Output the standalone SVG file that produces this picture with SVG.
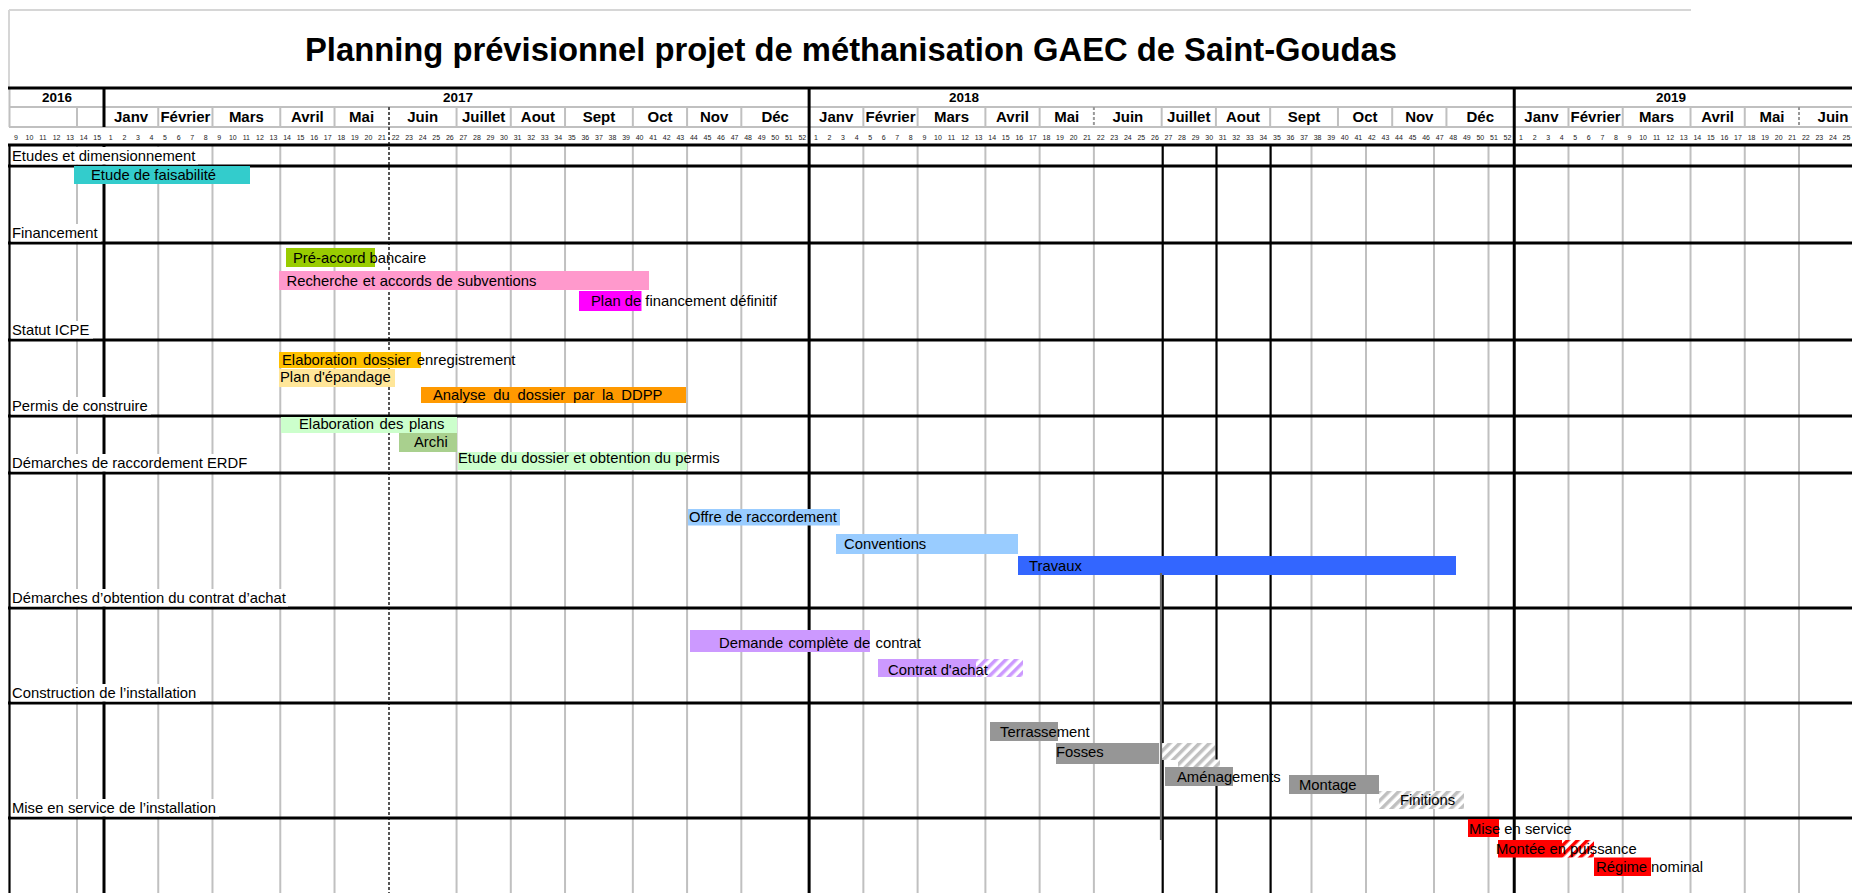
<svg xmlns="http://www.w3.org/2000/svg" width="1852" height="893" viewBox="0 0 1852 893">
<defs>
<style>
text{font-family:"Liberation Sans",Arial,sans-serif;fill:#000}
.ttl{font-size:34px;font-weight:bold}
.yr{font-size:13.5px;font-weight:bold;text-anchor:middle}
.mo{font-size:15px;font-weight:bold;text-anchor:middle}
.wk{font-size:7px;text-anchor:middle;fill:#222}
.lb{font-size:14.8px}
.g{stroke:#c0c0c0;stroke-width:2;fill:none}
.k{stroke:#000;stroke-width:3;fill:none}
.k2{stroke:#000;stroke-width:2.2;fill:none}
.d{stroke:#555;stroke-width:2;stroke-dasharray:3 2;fill:none}
.tb{stroke:#d6d6d6;stroke-width:2;fill:none}
.lc{fill:#fff}
</style>
<pattern id="hg" patternUnits="userSpaceOnUse" width="7" height="7" patternTransform="rotate(45)"><rect width="7" height="7" fill="#fff"/><rect width="3.5" height="7" fill="#c0c0c0"/></pattern>
<pattern id="hr" patternUnits="userSpaceOnUse" width="7" height="7" patternTransform="rotate(45)"><rect width="7" height="7" fill="#fff"/><rect width="3.5" height="7" fill="#ff0000"/></pattern>
<pattern id="hp" patternUnits="userSpaceOnUse" width="7" height="7" patternTransform="rotate(45)"><rect width="7" height="7" fill="#fff"/><rect width="3.5" height="7" fill="#cc99ff"/></pattern>
</defs>
<rect width="1852" height="893" fill="#fff"/>

<g id="title">
<path class="tb" d="M9 10H1691M9 10V88"/>
<text class="ttl" x="305" y="61" textLength="1092" lengthAdjust="spacingAndGlyphs">Planning prévisionnel projet de méthanisation GAEC de Saint-Goudas</text>
</g>

<g id="grid">
<path class="g" d="M9 107H1852M9 127H1852M9.5 88V127"/>
<path class="g" d="M77 107V127M158.24 107V127M212.48 107V127M280.28 107V127M334.52 107V127M456.56 107V127M510.8 107V127M565.04 107V127M632.84 107V127M687.08 107V127M741.32 107V127M863.36 107V127M917.6 107V127M985.4 107V127M1039.64 107V127M1161.68 107V127M1215.92 107V127M1270.16 107V127M1337.96 107V127M1392.2 107V127M1446.44 107V127M1568.48 107V127M1622.72 107V127M1690.52 107V127M1744.76 107V127"/>
<path class="d" d="M1093.88 107V127M1799 107V127" style="stroke:#999"/>
<path class="g" d="M77 145V893M158.24 145V893M212.48 145V893M280.28 145V893M334.52 145V893M456.56 145V893M510.8 145V893M565.04 145V893M632.84 145V893M687.08 145V893M741.32 145V893M863.36 145V893M917.6 145V893M985.4 145V893M1039.64 145V893M1093.88 145V893M1311.5 145V893M1366 145V893M1434 145V893M1488.5 145V893M1568.48 145V893M1622.72 145V893M1690.52 145V893M1744.76 145V893M1799 145V893"/>
<path class="d" d="M389 107V893"/>
<path class="k" d="M8 88H1852M8 145H1852M104 88V127M104 145V893M809.12 88V893M1514.24 88V893"/>
<path class="k2" d="M9.5 145V893M1162.7 145V893M1216.5 145V893M1270.6 145V893"/>
<path class="k" d="M8 166H1852M8 243H1852M8 340H1852M8 416H1852M8 473H1852M8 608H1852M8 703H1852M8 818H1852"/>
</g>

<g id="header">
<text class="yr" x="57" y="102">2016</text>
<text class="yr" x="458" y="102">2017</text>
<text class="yr" x="964" y="102">2018</text>
<text class="yr" x="1671" y="102">2019</text>
<text class="mo" y="122"><tspan x="131.1">Janv</tspan><tspan x="185.4">Février</tspan><tspan x="246.4">Mars</tspan><tspan x="307.4">Avril</tspan><tspan x="361.6">Mai</tspan><tspan x="422.7">Juin</tspan><tspan x="483.7">Juillet</tspan><tspan x="537.9">Aout</tspan><tspan x="598.9">Sept</tspan><tspan x="660">Oct</tspan><tspan x="714.2">Nov</tspan><tspan x="775.2">Déc</tspan><tspan x="836.2">Janv</tspan><tspan x="890.5">Février</tspan><tspan x="951.5">Mars</tspan><tspan x="1012.5">Avril</tspan><tspan x="1066.8">Mai</tspan><tspan x="1127.8">Juin</tspan><tspan x="1188.8">Juillet</tspan><tspan x="1243">Aout</tspan><tspan x="1304.1">Sept</tspan><tspan x="1365.1">Oct</tspan><tspan x="1419.3">Nov</tspan><tspan x="1480.3">Déc</tspan><tspan x="1541.4">Janv</tspan><tspan x="1595.6">Février</tspan><tspan x="1656.6">Mars</tspan><tspan x="1717.6">Avril</tspan><tspan x="1771.9">Mai</tspan><tspan x="1833">Juin</tspan></text>
<text class="wk" y="139.5"><tspan x="15.86">9</tspan><tspan x="29.42">10</tspan><tspan x="42.98">11</tspan><tspan x="56.54">12</tspan><tspan x="70.1">13</tspan><tspan x="83.66">14</tspan><tspan x="97.22">15</tspan><tspan x="110.78">1</tspan><tspan x="124.34">2</tspan><tspan x="137.9">3</tspan><tspan x="151.46">4</tspan><tspan x="165.02">5</tspan><tspan x="178.58">6</tspan><tspan x="192.14">7</tspan><tspan x="205.7">8</tspan><tspan x="219.26">9</tspan><tspan x="232.82">10</tspan><tspan x="246.38">11</tspan><tspan x="259.94">12</tspan><tspan x="273.5">13</tspan><tspan x="287.06">14</tspan><tspan x="300.62">15</tspan><tspan x="314.18">16</tspan><tspan x="327.74">17</tspan><tspan x="341.3">18</tspan><tspan x="354.86">19</tspan><tspan x="368.42">20</tspan><tspan x="381.98">21</tspan><tspan x="395.54">22</tspan><tspan x="409.1">23</tspan><tspan x="422.66">24</tspan><tspan x="436.22">25</tspan><tspan x="449.78">26</tspan><tspan x="463.34">27</tspan><tspan x="476.9">28</tspan><tspan x="490.46">29</tspan><tspan x="504.02">30</tspan><tspan x="517.58">31</tspan><tspan x="531.14">32</tspan><tspan x="544.7">33</tspan><tspan x="558.26">34</tspan><tspan x="571.82">35</tspan><tspan x="585.38">36</tspan><tspan x="598.94">37</tspan><tspan x="612.5">38</tspan><tspan x="626.06">39</tspan><tspan x="639.62">40</tspan><tspan x="653.18">41</tspan><tspan x="666.74">42</tspan><tspan x="680.3">43</tspan><tspan x="693.86">44</tspan><tspan x="707.42">45</tspan><tspan x="720.98">46</tspan><tspan x="734.54">47</tspan><tspan x="748.1">48</tspan><tspan x="761.66">49</tspan><tspan x="775.22">50</tspan><tspan x="788.78">51</tspan><tspan x="802.34">52</tspan><tspan x="815.9">1</tspan><tspan x="829.46">2</tspan><tspan x="843.02">3</tspan><tspan x="856.58">4</tspan><tspan x="870.14">5</tspan><tspan x="883.7">6</tspan><tspan x="897.26">7</tspan><tspan x="910.82">8</tspan><tspan x="924.38">9</tspan><tspan x="937.94">10</tspan><tspan x="951.5">11</tspan><tspan x="965.06">12</tspan><tspan x="978.62">13</tspan><tspan x="992.18">14</tspan><tspan x="1005.74">15</tspan><tspan x="1019.3">16</tspan><tspan x="1032.86">17</tspan><tspan x="1046.42">18</tspan><tspan x="1059.98">19</tspan><tspan x="1073.54">20</tspan><tspan x="1087.1">21</tspan><tspan x="1100.66">22</tspan><tspan x="1114.22">23</tspan><tspan x="1127.78">24</tspan><tspan x="1141.34">25</tspan><tspan x="1154.9">26</tspan><tspan x="1168.46">27</tspan><tspan x="1182.02">28</tspan><tspan x="1195.58">29</tspan><tspan x="1209.14">30</tspan><tspan x="1222.7">31</tspan><tspan x="1236.26">32</tspan><tspan x="1249.82">33</tspan><tspan x="1263.38">34</tspan><tspan x="1276.94">35</tspan><tspan x="1290.5">36</tspan><tspan x="1304.06">37</tspan><tspan x="1317.62">38</tspan><tspan x="1331.18">39</tspan><tspan x="1344.74">40</tspan><tspan x="1358.3">41</tspan><tspan x="1371.86">42</tspan><tspan x="1385.42">43</tspan><tspan x="1398.98">44</tspan><tspan x="1412.54">45</tspan><tspan x="1426.1">46</tspan><tspan x="1439.66">47</tspan><tspan x="1453.22">48</tspan><tspan x="1466.78">49</tspan><tspan x="1480.34">50</tspan><tspan x="1493.9">51</tspan><tspan x="1507.46">52</tspan><tspan x="1521.02">1</tspan><tspan x="1534.58">2</tspan><tspan x="1548.14">3</tspan><tspan x="1561.7">4</tspan><tspan x="1575.26">5</tspan><tspan x="1588.82">6</tspan><tspan x="1602.38">7</tspan><tspan x="1615.94">8</tspan><tspan x="1629.5">9</tspan><tspan x="1643.06">10</tspan><tspan x="1656.62">11</tspan><tspan x="1670.18">12</tspan><tspan x="1683.74">13</tspan><tspan x="1697.3">14</tspan><tspan x="1710.86">15</tspan><tspan x="1724.42">16</tspan><tspan x="1737.98">17</tspan><tspan x="1751.54">18</tspan><tspan x="1765.1">19</tspan><tspan x="1778.66">20</tspan><tspan x="1792.22">21</tspan><tspan x="1805.78">22</tspan><tspan x="1819.34">23</tspan><tspan x="1832.9">24</tspan><tspan x="1846.46">25</tspan></text>
</g>

<g id="row-labels">
<rect class="lc" x="11" y="147" width="187" height="17.5"/>
<text class="lb" x="12" y="161">Etudes et dimensionnement</text>
<rect class="lc" x="11" y="224" width="90" height="17.5"/>
<text class="lb" x="12" y="238">Financement</text>
<rect class="lc" x="11" y="321" width="82" height="17.5"/>
<text class="lb" x="12" y="335">Statut ICPE</text>
<rect class="lc" x="11" y="397" width="140" height="17.5"/>
<text class="lb" x="12" y="411">Permis de construire</text>
<rect class="lc" x="11" y="454" width="239" height="17.5"/>
<text class="lb" x="12" y="468">Démarches de raccordement ERDF</text>
<rect class="lc" x="11" y="589" width="277" height="17.5"/>
<text class="lb" x="12" y="603">Démarches d’obtention du contrat d’achat</text>
<rect class="lc" x="11" y="684" width="189" height="17.5"/>
<text class="lb" x="12" y="698">Construction de l’installation</text>
<rect class="lc" x="11" y="799" width="208" height="17.5"/>
<text class="lb" x="12" y="813">Mise en service de l’installation</text>
</g>

<g id="task-faisabilite"><rect x="74" y="166" width="176" height="18" fill="#33cccc"/><text class="lb" x="91" y="179.5">Etude de faisabilité</text></g>
<g id="task-preaccord"><rect x="286" y="248" width="89" height="19" fill="#99cc00"/><text class="lb" x="293" y="263">Pré-accord bancaire</text></g>
<g id="task-subventions"><rect x="279" y="271" width="370" height="19" fill="#ff99cc"/><text class="lb" x="286.5" y="285.5" word-spacing="0.6">Recherche et accords de subventions</text></g>
<g id="task-planfin"><rect x="579" y="291" width="62.5" height="20" fill="#ff00ff"/><text class="lb" x="591" y="305.5">Plan de financement définitif</text></g>
<g id="task-elab-dossier"><rect x="279" y="352" width="142" height="16" fill="#ffc000"/><text class="lb" x="282" y="364.5" word-spacing="2">Elaboration dossier enregistrement</text></g>
<g id="task-epandage"><rect x="279" y="369" width="116" height="18" fill="#ffe699"/><text class="lb" x="280" y="382">Plan d'épandage</text></g>
<g id="task-ddpp"><rect x="421" y="387" width="265" height="16" fill="#ff9900"/><text class="lb" x="433" y="399.5" word-spacing="3.6">Analyse du dossier par la DDPP</text></g>
<g id="task-plans"><rect x="281" y="417" width="176" height="16" fill="#ccffcc"/><text class="lb" x="299" y="429" word-spacing="1.5">Elaboration des plans</text></g>
<g id="task-archi"><rect x="399" y="433" width="58" height="19" fill="#a9d08e"/><text class="lb" x="414" y="447">Archi</text></g>
<g id="task-permis"><rect x="458" y="452" width="229" height="18" fill="#ccffcc"/><text class="lb" x="458" y="462.5">Etude du dossier et obtention du permis</text></g>
<g id="task-offre"><rect x="688" y="509" width="152" height="16.5" fill="#99ccff"/><text class="lb" x="689" y="522">Offre de raccordement</text></g>
<g id="task-conventions"><rect x="836" y="534" width="182" height="20" fill="#99ccff"/><text class="lb" x="844" y="548.5">Conventions</text></g>
<g id="task-travaux"><rect x="1018" y="556" width="438" height="19" fill="#3366ff"/><text class="lb" x="1029" y="571">Travaux</text></g>
<g id="task-demande"><rect x="690" y="630" width="180" height="22" fill="#cc99ff"/><text class="lb" x="719" y="648" word-spacing="1.2">Demande complète de contrat</text></g>
<g id="task-contrat"><rect x="878" y="659" width="98" height="18" fill="#cc99ff"/><rect x="976" y="659" width="47" height="18" fill="url(#hp)"/><text class="lb" x="888" y="675">Contrat d'achat</text></g>
<g id="task-terrassement"><rect x="990" y="722" width="68" height="19" fill="#969696"/><text class="lb" x="1000" y="737">Terrassement</text></g>
<g id="task-fosses"><rect x="1056" y="743" width="103" height="21" fill="#969696"/><rect x="1160" y="743" width="55" height="17" fill="url(#hg)"/><rect x="1178" y="759.5" width="42" height="7.5" fill="url(#hg)"/><text class="lb" x="1056" y="756.5">Fosses</text></g>
<g id="task-amenagements"><rect x="1165" y="767" width="68" height="19" fill="#969696"/><text class="lb" x="1177" y="782">Aménagements</text></g>
<g id="task-montage"><rect x="1289" y="775" width="90" height="19" fill="#969696"/><text class="lb" x="1299" y="790">Montage</text></g>
<g id="task-finitions"><rect x="1379" y="791" width="85" height="18" fill="url(#hg)"/><text class="lb" x="1400" y="805">Finitions</text></g>
<g id="task-mise-service"><rect x="1468" y="819" width="31" height="18" fill="#ff0000"/><text class="lb" x="1469" y="834">Mise en service</text></g>
<g id="task-montee"><rect x="1498" y="840" width="64" height="17.5" fill="#ff0000"/><rect x="1562" y="840" width="32" height="17.5" fill="url(#hr)"/><text class="lb" x="1496" y="853.5">Montée en puissance</text></g>
<g id="task-regime"><rect x="1594" y="857.5" width="57" height="18.5" fill="#ff0000"/><text class="lb" x="1596" y="872">Régime nominal</text></g>

<g id="connectors">
<path d="M1161 573V840" stroke="#666" stroke-width="2.2" fill="none"/>
</g>
</svg>
